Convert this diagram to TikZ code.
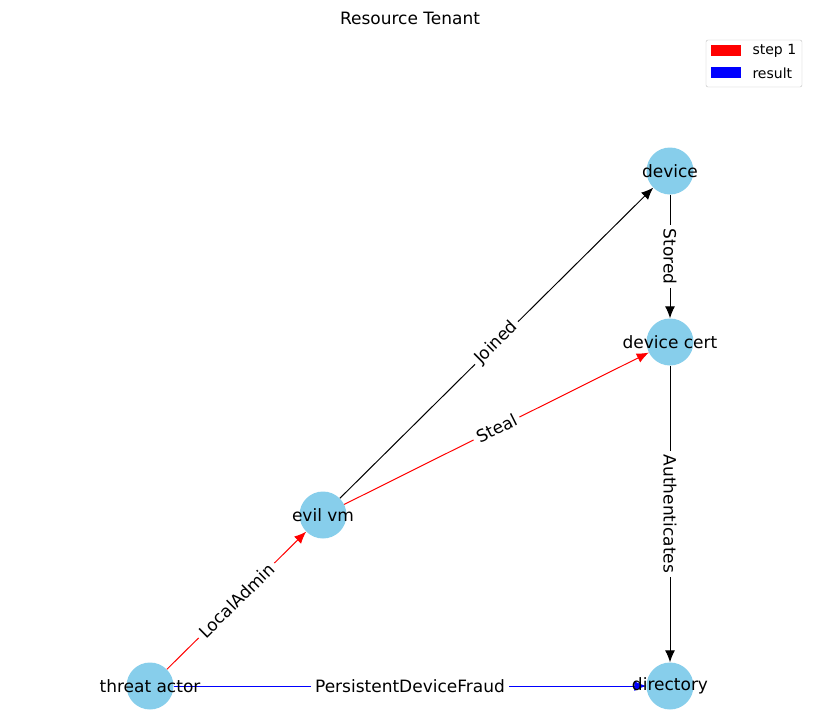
\documentclass[tikz,border=0pt]{standalone}
\usepackage{fontspec}
\setmainfont{DejaVu Sans}
\usetikzlibrary{arrows.meta}
\begin{document}
\begin{tikzpicture}[x=1pt,y=-1pt,
  vtx/.style={circle,fill=skyblue,minimum size=47pt,inner sep=0pt},
  vlabel/.style={font=\fontsize{17}{20}\selectfont},
  edge/.style={-{Latex[length=12pt,width=10pt]},line width=1pt},
  elabel/.style={fill=white,inner sep=4pt,font=\fontsize{17}{20}\selectfont,sloped,midway}]
\definecolor{skyblue}{HTML}{87CEEB}
\useasboundingbox (0,0) rectangle (820,723);
\node[font=\fontsize{17}{20}\selectfont] (title) at (410,18) {Resource Tenant};
\node[vtx] (dev) at (670,171) {};
\node[vtx] (cert) at (670,342) {};
\node[vtx] (vm) at (323,515) {};
\node[vtx] (ta) at (150,686) {};
\node[vtx] (dir) at (670,686) {};
\draw[edge,red] (ta) -- node[elabel,text=black]{LocalAdmin} (vm);
\draw[edge] (vm) -- node[elabel]{Joined} (dev);
\draw[edge,red] (vm) -- node[elabel,text=black]{Steal} (cert);
\draw[edge] (dev) -- node[elabel]{Stored} (cert);
\draw[edge] (cert) -- node[elabel]{Authenticates} (dir);
\draw[edge,blue] (ta) -- node[elabel,text=black]{PersistentDeviceFraud} (dir);
\node[vlabel] at (dev) {device};
\node[vlabel] at (cert) {device cert};
\node[vlabel] at (vm) {evil vm};
\node[vlabel] at (ta) {threat actor};
\node[vlabel] at (dir) {directory};
% legend
\draw[rounded corners=2pt,draw=black!25,fill=white] (706,40) rectangle (802,87);
\fill[red] (711,45) rectangle (741,56);
\fill[blue] (711,67) rectangle (741,78);
\node[anchor=west,font=\fontsize{14}{16}\selectfont] (l1) at (749,51) {step 1};
\node[anchor=west,font=\fontsize{14}{16}\selectfont] (l2) at (749,73) {result};
\end{tikzpicture}
\end{document}
